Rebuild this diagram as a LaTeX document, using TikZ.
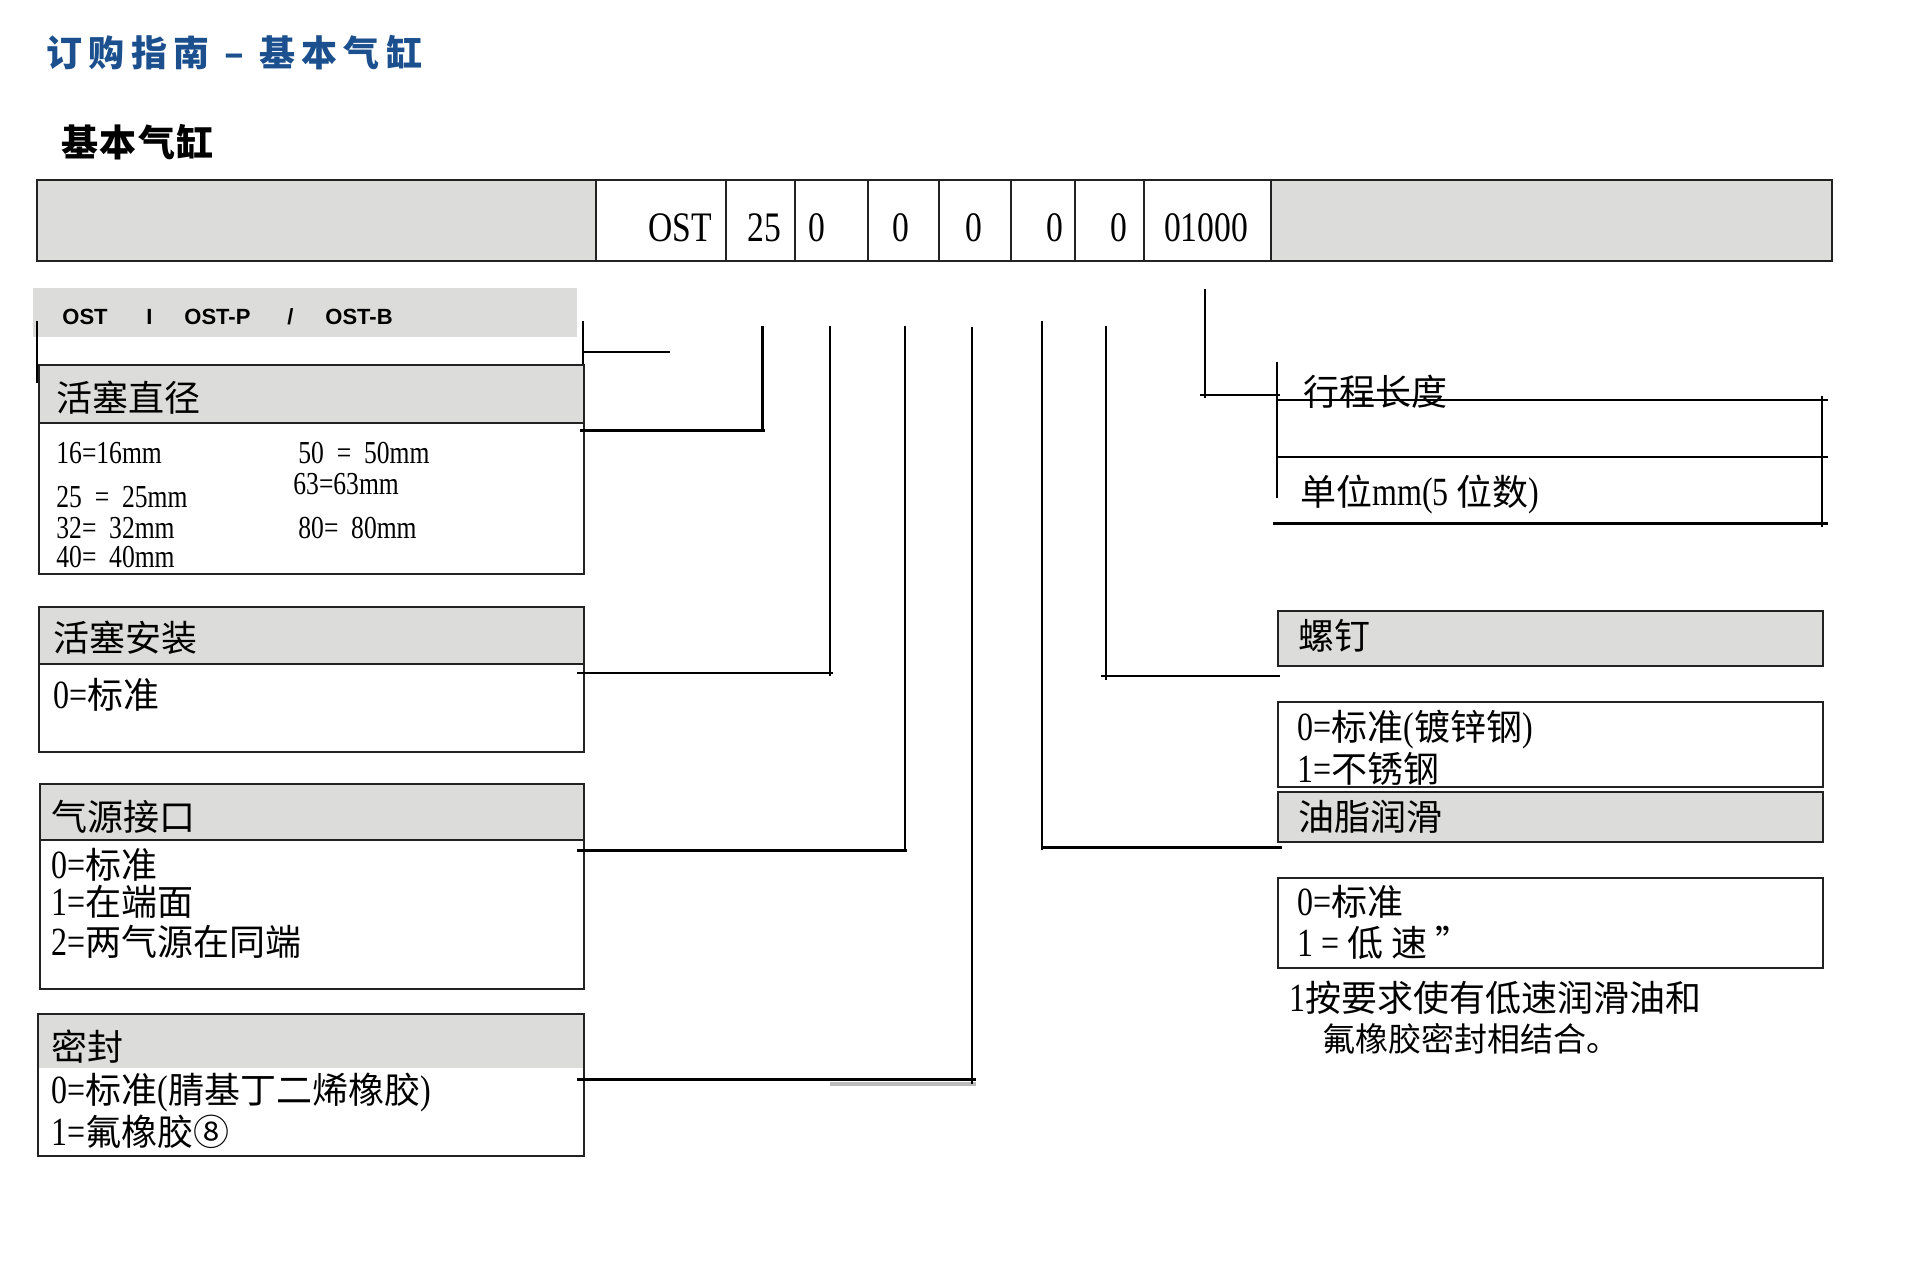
\documentclass[tikz,border=0pt]{standalone}
\usepackage{fontspec}
\setmainfont{Liberation Serif}[FakeStretch=0.8]
\newfontfamily\cjk{Noto Sans CJK SC}
\newfontfamily\sansb{Liberation Sans}
\newcommand\zh[1]{{\cjk\fontsize{18}{21}\selectfont #1}}
\usetikzlibrary{fit}
\definecolor{hdr}{HTML}{DCDCDA}
\definecolor{ttl}{HTML}{1B4F8E}
\definecolor{ln}{HTML}{222222}
\definecolor{shadowgray}{HTML}{BBBBBB}
\begin{document}
\begin{tikzpicture}[x=0.5pt,y=-0.5pt,
  boxs/.style={draw=ln, line width=1pt, inner sep=0pt},
  hdrbox/.style={boxs, fill=hdr},
  flat/.style={fill=hdr, inner sep=0pt},
  txt/.style={anchor=west, inner sep=0pt, font=\fontsize{16}{19}\selectfont},
  mix/.style={anchor=west, inner sep=0pt, font=\fontsize{20}{22}\selectfont},
  zht/.style={anchor=west, inner sep=0pt, font=\cjk\fontsize{18}{21}\selectfont},
  bandt/.style={anchor=west, inner sep=0pt, font=\sansb\bfseries\fontsize{11}{13}\selectfont},
  cell/.style={inner sep=0pt, font=\fontsize{21}{24}\selectfont},
  conn/.style={draw=black, line width=1pt},
  thk/.style={draw=black, line width=1.5pt}]

\useasboundingbox[fill=white] (0,0) rectangle (1920,1262);

% titles
\node[anchor=west, inner sep=0pt, text=ttl,
  font=\cjk\bfseries\fontsize{18}{21}\selectfont\addfontfeature{LetterSpace=18}] (title) at (46,53) {订购指南 – 基本气缸};
\node[anchor=west, inner sep=0pt,
  font=\cjk\bfseries\fontsize{18.5}{21}\selectfont\addfontfeature{LetterSpace=4}] (subtitle) at (61,142) {基本气缸};

% order code bar
\node[hdrbox, fit={(37,180)(596,261)}] (barL) {};
\node[boxs, fit={(596,180)(726,261)}] (c1) {};
\node[boxs, fit={(726,180)(795,261)}] (c2) {};
\node[boxs, fit={(795,180)(868,261)}] (c3) {};
\node[boxs, fit={(868,180)(939,261)}] (c4) {};
\node[boxs, fit={(939,180)(1011,261)}] (c5) {};
\node[boxs, fit={(1011,180)(1075,261)}] (c6) {};
\node[boxs, fit={(1075,180)(1144,261)}] (c7) {};
\node[boxs, fit={(1144,180)(1271,261)}] (c8) {};
\node[hdrbox, fit={(1271,180)(1832,261)}] (barR) {};
\node[cell] (t1) at (680,228) {OST};
\node[cell] (t2) at (764,228) {25};
\node[cell] (t3) at (817,228) {0};
\node[cell] (t4) at (901,228) {0};
\node[cell] (t5) at (974,228) {0};
\node[cell] (t6) at (1055,228) {0};
\node[cell] (t7) at (1119,228) {0};
\node[cell] (t8) at (1206,228) {01000};

% model band
\node[flat, fit={(33,288)(577,337)}] (band) {};
\node[bandt] (b1) at (62,317) {OST};
\node[bandt] (b2) at (146,317) {I};
\node[bandt] (b3) at (184,317) {OST-P};
\node[bandt] (b4) at (287,317) {/};
\node[bandt] (b5) at (325,317) {OST-B};
\coordinate (bl1) at (37,321); \coordinate (bl2) at (37,383);
\coordinate (br1) at (583,321); \coordinate (br2) at (583,365);
\coordinate (bh1) at (583,352); \coordinate (bh2) at (670,352);
\draw[conn] (bl1) -- (bl2);
\draw[conn] (br1) -- (br2);
\draw[conn] (bh1) -- (bh2);

% left boxes
\node[boxs, fit={(39,365)(584,574)}] (dia) {};
\node[hdrbox, fit={(39,365)(584,423)}] (diaH) {};
\node[zht] (diaT) at (56,398) {活塞直径};
\node[txt] (d1) at (56,453) {16=16mm};
\node[txt] (d2) at (298,453) {50 \ = \ 50mm};
\node[txt] (d3) at (293,484) {63=63mm};
\node[txt] (d4) at (56,497) {25 \ = \ 25mm};
\node[txt] (d5) at (56,528) {32= \ 32mm};
\node[txt] (d6) at (298,528) {80= \ 80mm};
\node[txt] (d7) at (56,557) {40= \ 40mm};

\node[boxs, fit={(39,607)(584,752)}] (mnt) {};
\node[hdrbox, fit={(39,607)(584,664)}] (mntH) {};
\node[zht] (mntT) at (53,638) {活塞安装};
\node[mix] (m1) at (53,695) {0=\zh{标准}};

\node[boxs, fit={(40,784)(584,989)}] (port) {};
\node[hdrbox, fit={(40,784)(584,840)}] (portH) {};
\node[zht] (portT) at (51,817) {气源接口};
\node[mix] (p1) at (51,865) {0=\zh{标准}};
\node[mix] (p2) at (51,902) {1=\zh{在端面}};
\node[mix] (p3) at (51,942) {2=\zh{两气源在同端}};

\node[flat, fit={(38,1014)(584,1068)}] (sealH) {};
\node[boxs, fit={(38,1014)(584,1156)}] (seal) {};
\node[zht] (sealT) at (51,1047) {密封};
\node[mix] (s1) at (51,1093) {0=\zh{标准}(\zh{腈基丁二烯橡胶})};
\node[mix] (s2) at (51,1132) {1=\zh{氟橡胶⑧}};

% right boxes
\node[zht] (strokeT) at (1303,392) {行程长度};
\node[mix] (strokeU) at (1300,495) {\zh{单位}mm(5 \zh{位数})};
\coordinate (sl1) at (1277,362); \coordinate (sl2) at (1277,498);
\coordinate (sr1) at (1822,396); \coordinate (sr2) at (1822,527);
\coordinate (sa1) at (1277,400); \coordinate (sa2) at (1828,400);
\coordinate (sb1) at (1277,457); \coordinate (sb2) at (1828,457);
\coordinate (sc1) at (1273,523); \coordinate (sc2) at (1828,523);
\draw[conn] (sl1) -- (sl2);
\draw[conn] (sr1) -- (sr2);
\draw[conn] (sa1) -- (sa2);
\draw[conn] (sb1) -- (sb2);
\draw[thk] (sc1) -- (sc2);

\node[hdrbox, fit={(1278,611)(1823,666)}] (screw) {};
\node[zht] (screwT) at (1298,636) {螺钉};
\node[boxs, fit={(1278,702)(1823,787)}] (screwO) {};
\node[mix] (so1) at (1297,730) {0=\zh{标准}(\zh{镀锌钢})};
\node[mix] (so2) at (1297,769) {1=\zh{不锈钢}};
\node[hdrbox, fit={(1278,792)(1823,842)}] (grease) {};
\node[zht] (greaseT) at (1298,817) {油脂润滑};
\node[boxs, fit={(1278,878)(1823,968)}] (greaseO) {};
\node[mix] (go1) at (1297,902) {0=\zh{标准}};
\node[mix] (go2) at (1297,943) {1 = \zh{低 速 ”}};
\node[mix] (fn1) at (1289,998) {1\zh{按要求使有低速润滑油和}};
\node[anchor=west, inner sep=0pt, font=\cjk\fontsize{16.5}{20}\selectfont] (fn2) at (1322,1039) {氟橡胶密封相结合。};

% connectors
\coordinate (k2a) at (762,326); \coordinate (k2b) at (762,432);
\coordinate (k2c) at (580,430); \coordinate (k2d) at (765,430);
\draw[thk] (k2a) -- (k2b);
\draw[thk] (k2c) -- (k2d);

\coordinate (k3a) at (830,326); \coordinate (k3b) at (830,676);
\coordinate (k3c) at (577,673); \coordinate (k3d) at (833,673);
\draw[conn] (k3a) -- (k3b);
\draw[conn] (k3c) -- (k3d);

\coordinate (k4a) at (904.5,326); \coordinate (k4b) at (904.5,852);
\coordinate (k4c) at (577,850); \coordinate (k4d) at (907,850);
\draw[conn] (k4a) -- (k4b);
\draw[thk] (k4c) -- (k4d);

\coordinate (k5a) at (972,327); \coordinate (k5b) at (972,1084);
\coordinate (k5c) at (577,1079); \coordinate (k5d) at (976,1079);
\coordinate (k5e) at (830,1084); \coordinate (k5f) at (976,1084);
\draw[shadowgray, line width=2pt] (k5e) -- (k5f);
\draw[conn] (k5a) -- (k5b);
\draw[thk] (k5c) -- (k5d);

\coordinate (k6a) at (1042,321); \coordinate (k6b) at (1042,850);
\coordinate (k6c) at (1042,847); \coordinate (k6d) at (1282,847);
\draw[conn] (k6a) -- (k6b);
\draw[thk] (k6c) -- (k6d);

\coordinate (k7a) at (1105.5,326); \coordinate (k7b) at (1105.5,680);
\coordinate (k7c) at (1101,676); \coordinate (k7d) at (1280,676);
\draw[conn] (k7a) -- (k7b);
\draw[conn] (k7c) -- (k7d);

\coordinate (k8a) at (1205,289); \coordinate (k8b) at (1205,398);
\coordinate (k8c) at (1200,395); \coordinate (k8d) at (1280,395);
\draw[conn] (k8a) -- (k8b);
\draw[conn] (k8c) -- (k8d);
\end{tikzpicture}
\end{document}
